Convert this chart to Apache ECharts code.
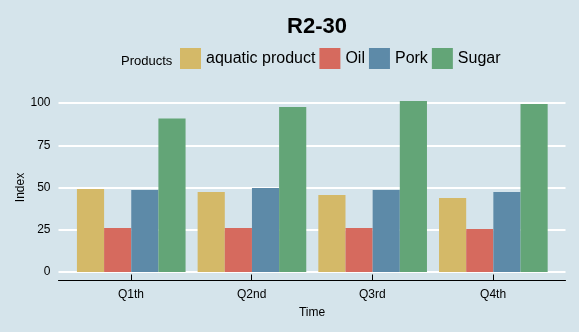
<!DOCTYPE html>
<html>
<head>
<meta charset="utf-8">
<script src="https://cdn.jsdelivr.net/npm/echarts@6/dist/echarts.min.js"></script>
<style>
  html, body { margin: 0; padding: 0; background: #D5E4EB; }
  #chart { width: 579px; height: 332px; }
</style>
</head>
<body>
<div id="chart"></div>
<script>
// Quarterly price index by product
const quarters = ['Q1th', 'Q2nd', 'Q3rd', 'Q4th'];
const aquatic = [49.1, 47.3, 45.6, 43.8];
const oil = [26.0, 26.0, 26.0, 25.4];
const pork = [48.5, 49.7, 48.5, 47.3];
const sugar = [90.9, 97.6, 101.2, 99.4];
const yTicks = [0, 25, 50, 75, 100];

const seriesNames = ['aquatic product', 'Oil', 'Pork', 'Sugar'];
const seriesData = [aquatic, oil, pork, sugar];
const colors = ['#D4B968', '#D66A5E', '#5D8AA8', '#63A577'];

// quarter positions on the panel's continuous x scale (1..n, padded by 0.6)
const quarterPos = quarters.map((q, i) => i + 1);

const FONT = 'Liberation Sans, Arial, sans-serif';
const chart = echarts.init(document.getElementById('chart'), null, { renderer: 'canvas' });

chart.setOption({
  backgroundColor: '#D5E4EB',
  animation: false,
  color: colors,
  textStyle: { fontFamily: FONT },
  graphic: [
    {
      type: 'text',
      x: 317, y: 27,
      style: {
        text: 'R2-30', fill: '#000',
        font: 'bold 22px ' + FONT,
        textAlign: 'center', textVerticalAlign: 'middle'
      }
    },
    {
      type: 'text',
      x: 121, y: 61,
      style: {
        text: 'Products', fill: '#000',
        font: '13px ' + FONT,
        textAlign: 'left', textVerticalAlign: 'middle'
      }
    }
  ],
  legend: {
    left: 180,
    top: 48,
    padding: 0,
    itemWidth: 21,
    itemHeight: 21,
    itemGap: 4,
    icon: 'rect',
    data: seriesNames,
    textStyle: { fontSize: 16, color: '#000', fontFamily: FONT }
  },
  grid: [
    // panel: y labels and horizontal gridlines
    { left: 58.5, right: 13.5, top: 103, bottom: 60 },
    // bar area: one band per quarter
    { left: 70.9, right: 25.3, top: 103, bottom: 60 },
    // thin strip under the panel carrying the x axis line, ticks and labels
    { left: 58.5, right: 13.5, top: 274, bottom: 51.5 }
  ],
  xAxis: [
    {
      type: 'value', gridIndex: 0, min: 0, max: 1,
      show: false
    },
    {
      type: 'category', gridIndex: 1, data: quarters,
      show: false
    },
    {
      type: 'value', gridIndex: 2,
      min: 0.4, max: quarters.length + 0.6,
      axisLine: { show: true, lineStyle: { color: '#000', width: 1 } },
      axisTick: { show: true, inside: true, length: 6, customValues: quarterPos,
                  lineStyle: { color: '#000', width: 1 } },
      axisLabel: {
        show: true, margin: 8, fontSize: 12, color: '#000', fontFamily: FONT,
        customValues: quarterPos,
        formatter: v => quarters[Math.round(v) - 1] || ''
      },
      splitLine: { show: false },
      name: 'Time',
      nameLocation: 'middle',
      nameGap: 26,
      nameMoveOverlap: false,
      nameTextStyle: { fontSize: 12, color: '#000', fontFamily: FONT }
    }
  ],
  yAxis: [
    {
      type: 'value', gridIndex: 0,
      min: yTicks[0], max: yTicks[yTicks.length - 1], interval: 25,
      axisLine: { show: false },
      axisTick: { show: false },
      axisLabel: { margin: 8, fontSize: 12, color: '#000', fontFamily: FONT },
      splitLine: { show: true, lineStyle: { color: '#FFFFFF', width: 2 } },
      name: 'Index',
      nameLocation: 'middle',
      nameRotate: 90,
      nameGap: 32,
      nameMoveOverlap: false,
      nameTextStyle: { fontSize: 12, color: '#000', fontFamily: FONT }
    },
    {
      type: 'value', gridIndex: 1,
      min: yTicks[0], max: yTicks[yTicks.length - 1],
      show: false,
      splitLine: { show: false }
    },
    {
      type: 'value', gridIndex: 2, min: 0, max: 1,
      show: false,
      splitLine: { show: false }
    }
  ],
  series: seriesNames.map((name, i) => ({
    name: name,
    type: 'bar',
    xAxisIndex: 1,
    yAxisIndex: 1,
    data: seriesData[i],
    clip: false,
    barGap: '0%',
    barCategoryGap: '10%',
    itemStyle: { color: colors[i] },
    z: 3
  }))
});
</script>
</body>
</html>
